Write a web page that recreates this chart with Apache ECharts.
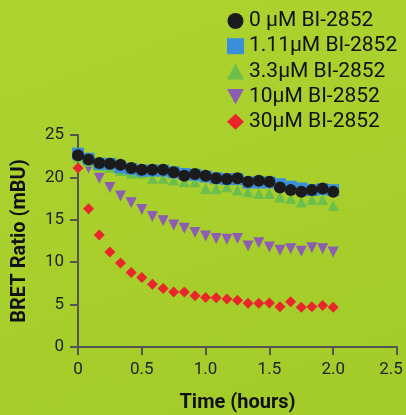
<!DOCTYPE html>
<html><head><meta charset="utf-8">
<script src="https://cdn.jsdelivr.net/npm/echarts@6/dist/echarts.min.js"></script>
<style>
html,body{margin:0;padding:0;}
body{width:406px;height:415px;background:linear-gradient(160deg,#aed32f 0%,#a8cf2c 50%,#a2cb29 100%);}
#c{width:406px;height:415px;}
</style></head>
<body><div id="c"></div>
<script>
const timeHours = [0, 0.083, 0.167, 0.25, 0.333, 0.417, 0.5, 0.583, 0.667, 0.75, 0.833, 0.917, 1.0, 1.083, 1.167, 1.25, 1.333, 1.417, 1.5, 1.583, 1.667, 1.75, 1.833, 1.917, 2.0];
const names = ['0 μM BI-2852', '1.11μM BI-2852', '3.3μM BI-2852', '10μM BI-2852', '30μM BI-2852'];
const v0 = [22.6, 22.1, 21.7, 21.6, 21.5, 21.1, 20.9, 20.9, 20.9, 20.6, 20.2, 20.4, 20.2, 19.9, 19.8, 19.9, 19.5, 19.6, 19.5, 18.8, 18.5, 18.3, 18.5, 18.7, 18.3];
const v111 = [22.8, 22.2, 21.6, 21.6, 21.2, 21.0, 20.8, 20.8, 20.8, 20.6, 20.4, 20.3, 20.1, 19.9, 19.8, 19.8, 19.4, 19.4, 19.4, 19.2, 18.9, 18.7, 18.5, 18.6, 18.5];
const v33 = [22.4, 21.9, 21.4, 21.2, 20.8, 20.5, 20.5, 19.9, 19.9, 19.7, 19.5, 19.5, 18.7, 18.7, 18.9, 18.5, 18.3, 18.1, 18.1, 17.7, 17.5, 17.1, 17.4, 17.4, 16.7];
const v10 = [22.4, 21.1, 19.9, 18.8, 17.8, 17.0, 16.2, 15.4, 14.9, 14.4, 14.0, 13.5, 13.1, 12.8, 12.7, 12.8, 11.9, 12.3, 11.8, 11.4, 11.6, 11.3, 11.7, 11.6, 11.2];
const v30 = [21.1, 16.3, 13.2, 11.2, 9.9, 8.8, 8.2, 7.4, 6.9, 6.5, 6.5, 6.05, 5.85, 5.8, 5.65, 5.5, 5.15, 5.15, 5.2, 4.75, 5.35, 4.7, 4.75, 4.9, 4.7];
const xTicks = ['0', '0.5', '1.0', '1.5', '2.0', '2.5'];

const downTri = 'path://M0,0 L10,0 L5,9 Z';
const styles = [
  {color:'#1b1b1b', symbol:'circle', size:12},
  {color:'#3b8fd8', symbol:'rect', size:12},
  {color:'#6cbf4b', symbol:'triangle', size:11},
  {color:'#8d5db2', symbol:downTri, size:11},
  {color:'#e8262b', symbol:'diamond', size:11}
];
const vals = [v0, v111, v33, v10, v30];
function pts(v){ return timeHours.map((t,i)=>[t, v[i]]); }

const series = [];
for (let k = 4; k >= 0; k--) {
  series.push({
    name: names[k], type: 'scatter', data: pts(vals[k]),
    symbol: styles[k].symbol, symbolSize: styles[k].size,
    itemStyle: {color: styles[k].color, opacity: 1},
    emphasis: {disabled: true}
  });
}

const axisStyle = {lineStyle:{color:'#555', width:2}};
const chart = echarts.init(document.getElementById('c'), null, {renderer:'canvas'});
chart.setOption({
  animation: false,
  backgroundColor: 'transparent',
  textStyle: {fontFamily: 'Roboto'},
  grid: {left: 78, right: 9, top: 135, bottom: 68, containLabel: false, outerBoundsMode: 'none'},
  legend: {
    orient: 'vertical', left: 227, top: 10, itemGap: 3.2, itemWidth: 17, itemHeight: 16,
    padding: 0,
    data: names.map((n,k)=>({name:n, icon: styles[k].symbol})),
    textStyle: {fontFamily:'Roboto', fontSize: 21, lineHeight: 22, color:'#111', padding:[0,0,0,0]},
    selectedMode: false
  },
  xAxis: {
    type: 'value', min: 0, max: 2.5, interval: 0.5,
    axisLine: axisStyle, axisTick: {show:true, length: 8, lineStyle:{color:'#555', width:2}},
    splitLine: {show:false},
    axisLabel: {
      fontSize: 17, color:'#222', margin: 14,
      formatter: (v)=>{ const i = Math.round(v/0.5); return i === xTicks.length-1 ? '{r|' + xTicks[i] + '}' : xTicks[i]; },
      rich: {r: {fontSize: 17, color:'#222', fontFamily:'Roboto', padding:[0,12,0,0]}}
    },
    name: 'Time (hours)', nameLocation: 'middle', nameGap: 46,
    nameTextStyle: {fontSize: 20, fontWeight: 'bold', color:'#111'}
  },
  yAxis: {
    type: 'value', min: 0, max: 25, interval: 5,
    axisLine: {show:true, lineStyle:{color:'#555', width:2}},
    axisTick: {show:true, length: 8, lineStyle:{color:'#555', width:2}},
    splitLine: {show:false},
    axisLabel: {fontSize: 17, color:'#222', margin: 14},
    name: 'BRET Ratio (mBU)', nameLocation: 'middle', nameGap: 48,
    nameTextStyle: {fontSize: 20, fontWeight: 'bold', color:'#111'}
  },
  series: series
});
</script></body></html>
